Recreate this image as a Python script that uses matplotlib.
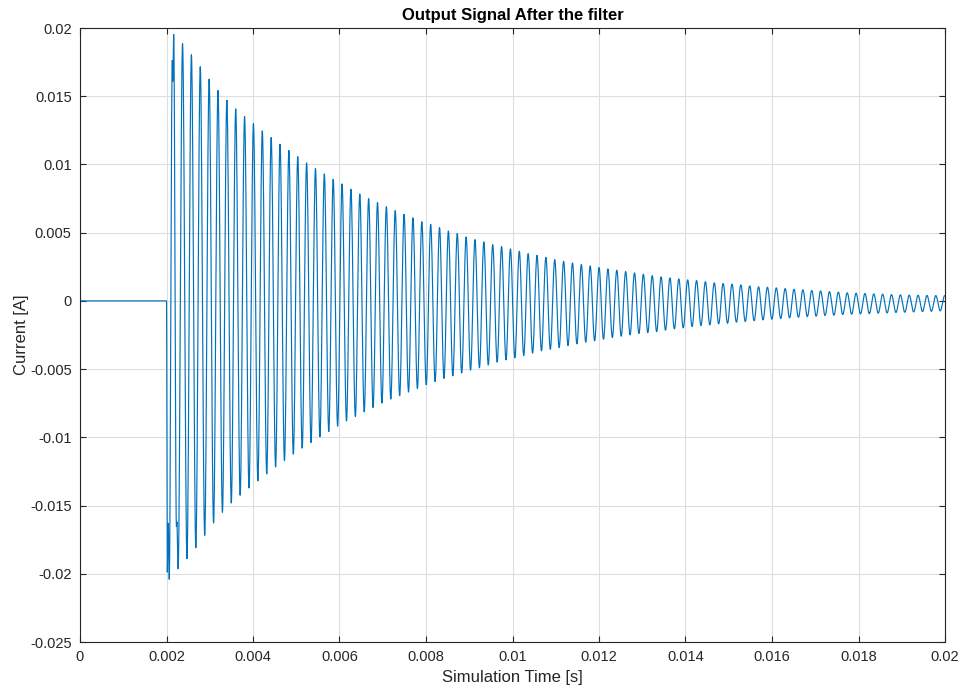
import numpy as np
import matplotlib

matplotlib.use("Agg")
import matplotlib.pyplot as plt
from matplotlib.ticker import FuncFormatter, MultipleLocator

# positive peaks of the filtered current, one per cycle [A]
peaks = [
    0.01953, 0.01885, 0.01804, 0.01716, 0.01625, 0.01542, 0.01468, 0.01407, 0.01351, 0.01297,
    0.01246, 0.01197, 0.01148, 0.01099, 0.01057, 0.01011, 0.00969, 0.00930, 0.00891, 0.00855,
    0.00818, 0.00783, 0.00749, 0.00720, 0.00690, 0.00661, 0.00634, 0.00608, 0.00580, 0.00561,
    0.00537, 0.00512, 0.00493, 0.00469, 0.00449, 0.00432, 0.00412, 0.00398, 0.00381, 0.00364,
    0.00346, 0.00334, 0.00319, 0.00302, 0.00290, 0.00278, 0.00266, 0.00256, 0.00244, 0.00234,
    0.00225, 0.00215, 0.00205, 0.00195, 0.00185, 0.00176, 0.00168, 0.00161, 0.00154, 0.00149,
    0.00141, 0.00132, 0.00127, 0.00122, 0.00117, 0.00110, 0.00103, 0.00100, 0.00095, 0.00090,
    0.00085, 0.00081, 0.00076, 0.00073, 0.00068, 0.00064, 0.00059, 0.00056, 0.00054, 0.00051,
    0.00049, 0.00046, 0.00044, 0.00042, 0.00041, 0.00040, 0.00039, 0.00038,
]

# negative troughs, one per cycle [A]
troughs = [
    -0.02040, -0.01963, -0.01889, -0.01809, -0.01718, -0.01628, -0.01549, -0.01481, -0.01424, -0.01371,
    -0.01319, -0.01268, -0.01217, -0.01170, -0.01123, -0.01079, -0.01038, -0.00996, -0.00957, -0.00918,
    -0.00880, -0.00847, -0.00813, -0.00781, -0.00749, -0.00720, -0.00695, -0.00668, -0.00642, -0.00615,
    -0.00591, -0.00568, -0.00549, -0.00529, -0.00507, -0.00490, -0.00469, -0.00449, -0.00432, -0.00417,
    -0.00400, -0.00383, -0.00366, -0.00355, -0.00342, -0.00327, -0.00315, -0.00303, -0.00293, -0.00281,
    -0.00268, -0.00259, -0.00249, -0.00239, -0.00232, -0.00225, -0.00215, -0.00205, -0.00198, -0.00188,
    -0.00181, -0.00176, -0.00168, -0.00164, -0.00156, -0.00151, -0.00145, -0.00139, -0.00134, -0.00129,
    -0.00124, -0.00120, -0.00115, -0.00112, -0.00107, -0.00105, -0.00100, -0.00098, -0.00095, -0.00093,
    -0.00090, -0.00088, -0.00085, -0.00083, -0.00081, -0.00078, -0.00076, -0.00073,
]

t_switch = 0.002          # filter input switched on [s]
t_first_peak = 0.002166   # first positive peak [s]
period = 0.0002049        # oscillation period [s]

# switching transient: extra turning points at the start of the ringing
spike_t = [0.0, t_switch, 0.002018, 0.002041, 0.002134, 0.002146, 0.002229, 0.002240]
spike_v = [0.0, 0.0, -0.01988, -0.01630, 0.01760, 0.01610, -0.01654, -0.01620]

# turning points: trough k sits half a period before peak k
k = np.arange(len(peaks))
tp_t = np.concatenate([t_first_peak - period / 2 + k * period, t_first_peak + k * period, spike_t])
tp_v = np.concatenate([troughs, peaks, spike_v])
order = np.argsort(tp_t)
tp_t, tp_v = tp_t[order], tp_v[order]

# half-cosine segments between successive extremes
s = np.linspace(0, 1, 24)
w = (1 - np.cos(np.pi * s)) / 2
t_parts, i_parts = [], []
for a in range(len(tp_t) - 1):
    t_parts.append(tp_t[a] + (tp_t[a + 1] - tp_t[a]) * s)
    i_parts.append(tp_v[a] + (tp_v[a + 1] - tp_v[a]) * w)
t = np.concatenate(t_parts)
current = np.concatenate(i_parts)

plt.rcParams["font.family"] = ["Liberation Sans", "DejaVu Sans"]
plt.rcParams["axes.unicode_minus"] = False

fig = plt.figure(figsize=(9.65, 6.91), dpi=100)
ax = fig.add_axes([80 / 965, 1 - 642 / 691, 865 / 965, 614 / 691])

ax.plot(t, current, color="#0072BD", linewidth=0.85)

ax.set_xlim(0, 0.02)
ax.set_ylim(-0.025, 0.02)
ax.xaxis.set_major_locator(MultipleLocator(0.002))
ax.yaxis.set_major_locator(MultipleLocator(0.005))
fmt = FuncFormatter(lambda v, pos: "0" if abs(v) < 1e-12 else ("%g" % round(v, 6)))
ax.xaxis.set_major_formatter(fmt)
ax.yaxis.set_major_formatter(fmt)

ax.grid(True, color="#dedede", linewidth=0.8)
ax.set_axisbelow(True)
for sp in ax.spines.values():
    sp.set_color("#262626")
    sp.set_linewidth(0.8)
ax.tick_params(direction="in", length=4.5, width=0.8, color="#262626",
               top=True, right=True, labelsize=10.5, labelcolor="#262626", pad=6)

ax.set_xlabel("Simulation Time [s]", fontsize=12, color="#262626", labelpad=4)
ax.set_ylabel("Current [A]", fontsize=12, color="#262626", labelpad=1)
ax.set_title("Output Signal After the filter", fontsize=12, fontweight="bold", pad=6)

fig.savefig("out.png", dpi=100)
